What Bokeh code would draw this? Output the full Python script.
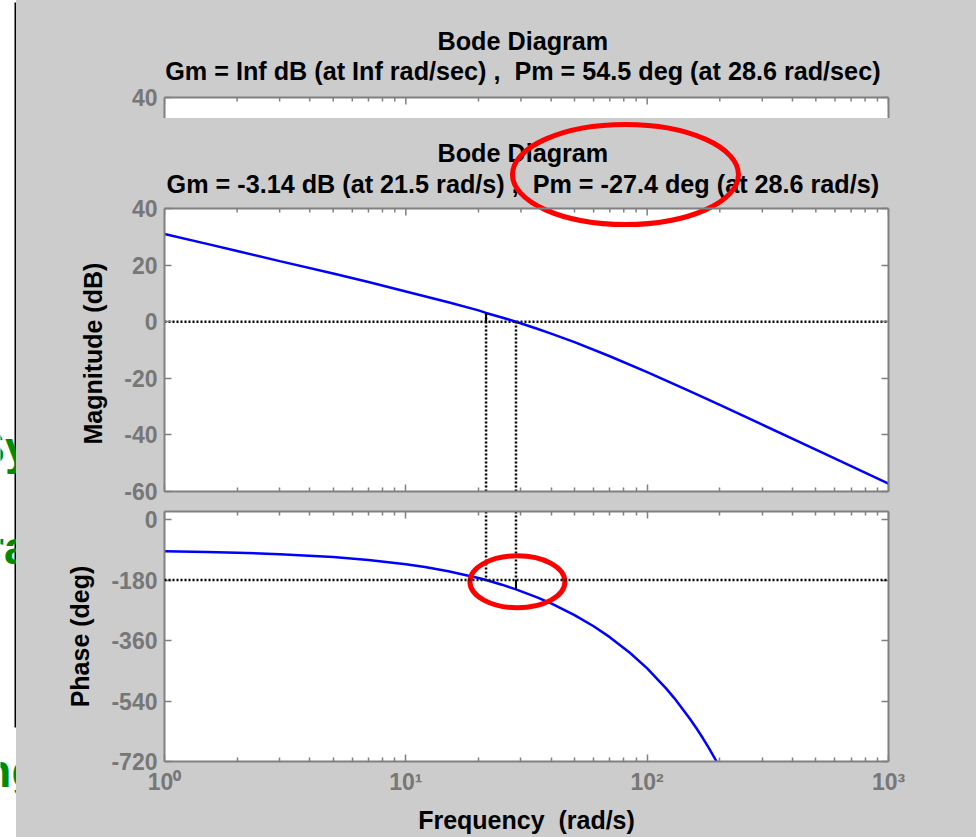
import numpy as np
from bokeh.plotting import figure
from bokeh.models import (Range1d, LogAxis, LinearAxis, FixedTicker, Span, BoxAnnotation)
from bokeh.layouts import row, column
from bokeh.embed import file_html
from bokeh.resources import INLINE
from bokeh.core.properties import value

# ---------------- data ----------------
freq = [1, 1.5, 2, 3, 5, 7, 10, 15, 20, 21.5, 25, 28.6, 35, 40, 50, 70, 100, 150, 200, 300, 500, 700, 1000]
mag_db = [31.0, 27.5, 25.0, 21.4, 17.0, 14.0, 10.7, 6.9, 4.0, 3.1, 1.5, 0.0, -2.5, -4.2, -7.2, -12.2,
          -17.8, -24.5, -29.4, -36.4, -45.2, -51.0, -57.2]

phase_freq = [1, 1.5, 2, 3, 5, 7, 10, 12, 15, 20, 21.5, 25, 28.6, 35, 40, 50, 60, 70, 85, 100,
              120, 130, 150, 160, 170, 180, 194]
phase_deg = [-94.3, -96.5, -98.6, -102.9, -111.5, -120.1, -132.8, -141.3, -153.7, -174.1, -180.0,
             -193.8, -207.6, -231.5, -249.5, -284.2, -317.5, -349.9, -397.0, -443.0,
             -503.1, -532.8, -591.8, -621.1, -650.2, -679.4, -720.0]

gm_freq = 21.5     # rad/s
gm_db = -3.14      # dB
pm_freq = 28.6     # rad/s
pm_deg = -27.4     # deg

x_major = [1, 10, 100, 1000]
x_minor = [2, 3, 4, 5, 6, 7, 8, 9, 20, 30, 40, 50, 60, 70, 80, 90,
           200, 300, 400, 500, 600, 700, 800, 900]
x_labels = ["10\u2070", "10\u00b9", "10\u00b2", "10\u00b3"]
mag_ticks = [-60, -40, -20, 0, 20, 40]
mag_labels = ["-60", "-40", "-20", "0", "20", "40"]
phase_ticks = [-720, -540, -360, -180, 0]
phase_labels = ["-720", "-540", "-360", "-180", "0"]
back_ticks = [40]
back_labels = ["40"]

back_title = "Bode Diagram"
back_sub = "Gm = Inf dB (at Inf rad/sec) ,\u00a0 Pm = 54.5 deg (at 28.6 rad/sec)"
front_title = "Bode Diagram"
front_sub = "Gm = -3.14 dB (at 21.5 rad/s) ,\u00a0 Pm = -27.4 deg (at 28.6 rad/s)"
mag_axis_label = "Magnitude (dB)"
phase_axis_label = "Phase (deg)"
freq_axis_label = "Frequency\u00a0 (rad/s)"
slide_words = ["Sy", "ra", "ng"]

# ---------------- style ----------------
GRAY_BG = "#cccccc"
AXIS = "#808080"
TICKLBL = "#777777"
FONT = "'Liberation Sans', Arial, sans-serif"
W_RIGHT = 960
PX_PER_DB = 283 / 100          # magnitude axes scale (pixels per dB)
TITLE_X = 10 ** 1.485          # horizontal centre of the titles (rad/s)


def make_fig(height, yr, top, bottom):
    p = figure(width=W_RIGHT, height=height, x_axis_type="log",
               x_range=Range1d(1, 1000), y_range=yr,
               x_axis_location=None, y_axis_location=None,
               toolbar_location=None, title=None, output_backend="svg",
               min_border_left=148, min_border_right=88,
               min_border_top=top, min_border_bottom=bottom)
    p.grid.visible = False
    p.border_fill_color = GRAY_BG
    p.background_fill_color = "white"
    p.outline_line_color = None
    return p


def add_axis(p, side, ticks, minor=None, log=False, labels=None, label=None,
             label_standoff=12, bounds=None):
    ticker = FixedTicker(ticks=ticks, minor_ticks=minor or [])
    ax = LogAxis(ticker=ticker) if log else LinearAxis(ticker=ticker)
    if bounds is not None:
        ax.bounds = bounds
    ax.axis_line_color = AXIS
    ax.axis_line_width = 2
    ax.major_tick_in = 7
    ax.major_tick_out = 0
    ax.minor_tick_in = 4
    ax.minor_tick_out = 0
    ax.major_tick_line_color = AXIS
    ax.minor_tick_line_color = AXIS
    ax.major_tick_line_width = 1.5
    ax.minor_tick_line_width = 1.5
    if labels:
        ax.major_label_overrides = {k: v for k, v in zip(ticks, labels)}
        ax.major_label_text_font = FONT
        ax.major_label_text_font_style = "bold"
        ax.major_label_text_font_size = "23px"
        ax.major_label_text_color = TICKLBL
        ax.major_label_standoff = 7
    else:
        ax.major_label_text_font_size = "1px"
        ax.major_label_text_alpha = 0
        ax.major_label_standoff = 0
    if label:
        ax.axis_label = label
        ax.axis_label_text_font = FONT
        ax.axis_label_text_font_style = "bold"
        ax.axis_label_text_font_size = "25px"
        ax.axis_label_text_color = "black"
        ax.axis_label_standoff = label_standoff
    p.add_layout(ax, side)
    return ax


def window_top(p, top_db, main, sub, main_db, sub_db):
    """Gray title area inside the frame, white axes box below top_db, top edge ticks."""
    p.background_fill_color = GRAY_BG
    p.add_layout(BoxAnnotation(top=top_db, fill_color="white", fill_alpha=1,
                               line_color=None, level="underlay"))
    p.add_layout(Span(location=top_db, dimension="width", line_color=AXIS, line_width=2))
    p.segment(x0=x_major, y0=[top_db] * len(x_major), x1=x_major,
              y1=[top_db - 7 / PX_PER_DB] * len(x_major), line_color=AXIS, line_width=1.5)
    p.segment(x0=x_minor, y0=[top_db] * len(x_minor), x1=x_minor,
              y1=[top_db - 4 / PX_PER_DB] * len(x_minor), line_color=AXIS, line_width=1.5)
    p.text(x=[TITLE_X, TITLE_X], y=[main_db, sub_db], text=[main, sub],
           text_align="center", text_baseline="middle", text_font=value(FONT),
           text_font_style="bold", text_font_size="25.2px", text_color="black")


# ---------------- left strip (slide behind the windows) ----------------
strip = figure(width=16, height=837, x_range=Range1d(0, 16), y_range=Range1d(837, 0),
               x_axis_location=None, y_axis_location=None, toolbar_location=None,
               title=None, output_backend="svg", min_border=0)
strip.grid.visible = False
strip.outline_line_color = None
strip.background_fill_color = "white"
strip.border_fill_color = "white"
strip.segment(x0=[15], y0=[2], x1=[15], y1=[727], line_color="black", line_width=2)
strip.text(x=[30, 29, 39], y=[447, 547, 770], text=slide_words, text_align="right",
           text_baseline="alphabetic", text_font=value(FONT), text_font_style="bold",
           text_font_size="46px", text_color="#008c00")

# ---------------- top border line of the back window ----------------
topbar = figure(width=W_RIGHT, height=3, x_range=Range1d(0, 1), y_range=Range1d(0, 1),
                x_axis_location=None, y_axis_location=None, toolbar_location=None,
                title=None, output_backend="svg", min_border=0, min_border_top=1)
topbar.grid.visible = False
topbar.outline_line_color = None
topbar.background_fill_color = "black"
topbar.border_fill_color = "white"
topbar.scatter(x=[0.5], y=[0.5], size=0, alpha=0)

# ---------------- back window (only its top strip is visible) ----------------
fig0 = make_fig(115, Range1d(40 - 21 / PX_PER_DB, 40 + 94 / PX_PER_DB), top=0, bottom=0)
add_axis(fig0, "left", back_ticks, labels=back_labels, bounds=(0, 40))
add_axis(fig0, "right", back_ticks, bounds=(0, 40))
window_top(fig0, 40, back_title, back_sub, 40 + 57 / PX_PER_DB, 40 + 27 / PX_PER_DB)

# ---------------- front window: magnitude ----------------
fig1 = make_fig(383, Range1d(-60, 40 + 90 / PX_PER_DB), top=0, bottom=10)
add_axis(fig1, "below", x_major, x_minor, log=True)
# trailing no-break spaces keep the label centred on the -60..40 part of the axis
add_axis(fig1, "left", mag_ticks, labels=mag_labels, label=mag_axis_label + "\u00a0" * 14,
         label_standoff=14, bounds=(-60, 40))
add_axis(fig1, "right", mag_ticks, bounds=(-60, 40))
window_top(fig1, 40, front_title, front_sub, 40 + 56 / PX_PER_DB, 40 + 25 / PX_PER_DB)

dot = dict(line_color="black", line_width=2.5, line_dash="2 2")
fig1.segment(x0=[1], y0=[0], x1=[1000], y1=[0], **dot)
fig1.line(freq, mag_db, line_color="blue", line_width=2.5)
fig1.segment(x0=[gm_freq, pm_freq], y0=[-60, -60], x1=[gm_freq, pm_freq], y1=[-gm_db, 0], **dot)
fig1.segment(x0=[gm_freq], y0=[0], x1=[gm_freq], y1=[-gm_db], line_color="black", line_width=2)
# red ellipse around the Pm value in the title (decoration)
fig1.ellipse(x=[10 ** 1.91], y=[40 + 34 / PX_PER_DB], width=226, height=100,
             width_units="screen", height_units="screen", fill_color=None,
             line_color="red", line_width=5)

# ---------------- front window: phase ----------------
fig2 = make_fig(336, Range1d(-720, 24), top=10, bottom=76)
add_axis(fig2, "above", x_major, x_minor, log=True)
add_axis(fig2, "below", x_major, x_minor, log=True, labels=x_labels,
         label=freq_axis_label, label_standoff=8)
add_axis(fig2, "left", phase_ticks, labels=phase_labels, label=phase_axis_label,
         label_standoff=14)
add_axis(fig2, "right", phase_ticks)

fig2.add_layout(Span(location=-180, dimension="width", **dot))
fig2.line(phase_freq, phase_deg, line_color="blue", line_width=2.5)
fig2.segment(x0=[gm_freq, pm_freq], y0=[24, 24], x1=[gm_freq, pm_freq], y1=[-180, -180], **dot)
fig2.segment(x0=[pm_freq], y0=[-180], x1=[pm_freq], y1=[-180 + pm_deg],
             line_color="black", line_width=2)
fig2.ellipse(x=[29.0], y=[-185.2], width=95, height=52, width_units="screen",
             height_units="screen", fill_color=None, line_color="red", line_width=5)

right = column(topbar, fig0, fig1, fig2, styles={"background-color": GRAY_BG})
layout = row(strip, right)

with open("out.html", "w") as f:
    f.write(file_html(layout, INLINE))
